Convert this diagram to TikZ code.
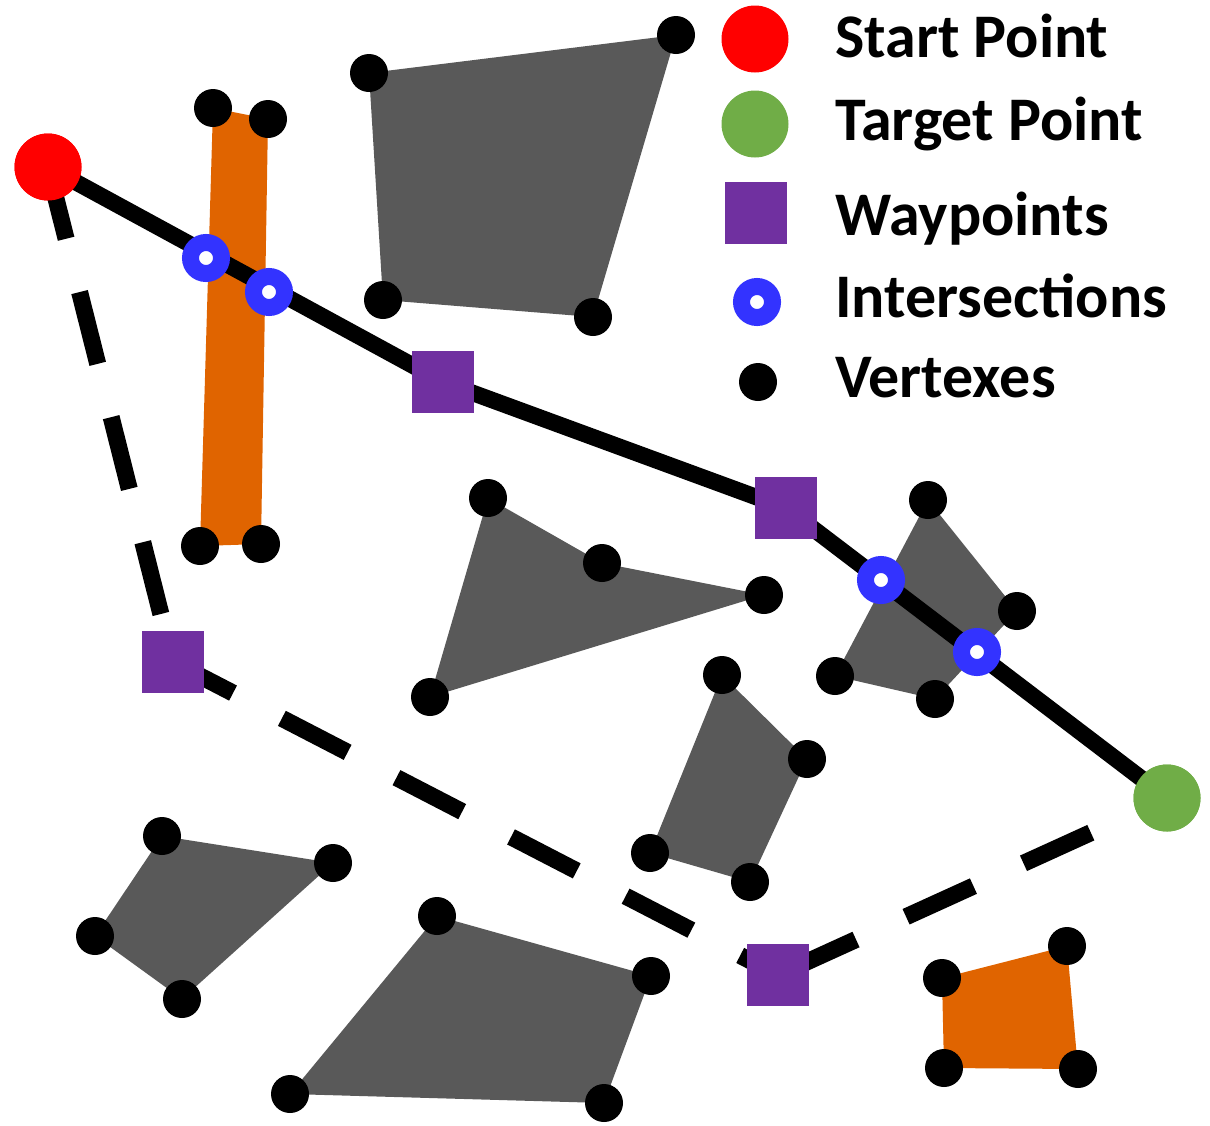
\documentclass[tikz,border=0pt]{standalone}
\usepackage{fontspec}
\setmainfont{Carlito}
\definecolor{polygray}{HTML}{595959}
\definecolor{obsorange}{RGB}{224,100,0}
\definecolor{wppurple}{HTML}{7030A0}
\definecolor{isblue}{HTML}{3333FF}
\definecolor{tgreen}{HTML}{70AD47}
\definecolor{sred}{HTML}{FF0000}
\begin{document}
\begin{tikzpicture}[x=1pt,y=-1pt,
  vtx/.style={circle,fill=black,inner sep=0pt,minimum size=38pt},
  wpbox/.style={rectangle,fill=wppurple,inner sep=0pt,minimum size=62pt},
  startpt/.style={circle,fill=sred,inner sep=0pt,minimum size=67pt},
  targetpt/.style={circle,fill=tgreen,inner sep=0pt,minimum size=67pt},
  isring/.style={circle,draw=isblue,line width=17pt,fill=white,inner sep=0pt,minimum size=31pt},
  solidpath/.style={line width=16.5pt},
  dashpath/.style={line width=17pt,dash pattern=on 74pt off 55pt},
  legtext/.style={anchor=base west,inner sep=0pt,font=\fontsize{62}{70}\selectfont\bfseries}]
\useasboundingbox (0,0) rectangle (1210,1125);
% polygons
\fill[obsorange] (213,108) -- (268,119) -- (261,544) -- (200,546) -- cycle;
\fill[polygray] (369,73) -- (676,35) -- (593,317) -- (383,300) -- cycle;
\fill[polygray] (488,498) -- (602,563) -- (764,595) -- (430,697) -- cycle;
\fill[polygray] (928,500) -- (1017,611) -- (935,699) -- (835,676) -- cycle;
\fill[polygray] (722,675) -- (807,759) -- (750,882) -- (650,853) -- cycle;
\fill[polygray] (162,836) -- (333,863) -- (182,999) -- (95,936) -- cycle;
\fill[polygray] (437,916) -- (651,976) -- (604,1103) -- (290,1094) -- cycle;
\fill[obsorange] (942,978) -- (1067,946) -- (1078,1069) -- (944,1068) -- cycle;
% vertexes
\foreach \n/\p in {a1/{(213,108)},a2/{(268,119)},a3/{(261,544)},a4/{(200,546)},
  b1/{(369,73)},b2/{(676,35)},b3/{(593,317)},b4/{(383,300)},
  c1/{(488,498)},c2/{(602,563)},c3/{(764,595)},c4/{(430,697)},
  d1/{(928,500)},d2/{(1017,611)},d3/{(935,699)},d4/{(835,676)},
  e1/{(722,675)},e2/{(807,759)},e3/{(750,882)},e4/{(650,853)},
  f1/{(162,836)},f2/{(333,863)},f3/{(182,999)},f4/{(95,936)},
  g1/{(437,916)},g2/{(651,976)},g3/{(604,1103)},g4/{(290,1094)},
  h1/{(942,978)},h2/{(1067,946)},h3/{(1078,1069)},h4/{(944,1068)}}
  \node[vtx] (\n) at \p {};
% key points (placed first so the paths can refer to them)
\node[startpt] (start) at (48,167) {};
\node[targetpt] (target) at (1167,798) {};
\node[wpbox] (wp1) at (443,382) {};
\node[wpbox] (wp2) at (786,508) {};
\node[wpbox] (wp3) at (173,662) {};
\node[wpbox] (wp4) at (778,975) {};
% paths
\draw[solidpath] (start.center) -- (wp1.center) -- (wp2.center) -- (target.center);
\draw[dashpath] (start.center) -- (wp3.center);
\draw[dashpath,dash phase=6.4pt] (wp3.center) -- (wp4.center);
\draw[dashpath,dash phase=117.3pt] (wp4.center) -- (target.center);
% markers on top of the paths
\node[wpbox] at (wp1) {};
\node[wpbox] at (wp2) {};
\node[wpbox] at (wp3) {};
\node[wpbox] at (wp4) {};
\node[startpt] at (start) {};
\node[targetpt] at (target) {};
% intersections
\node[isring] (i1) at (206,258) {};
\node[isring] (i2) at (269,292) {};
\node[isring] (i3) at (881,580) {};
\node[isring] (i4) at (977,652) {};
% legend
\node[startpt] (lstart) at (755,39) {};
\node[targetpt] (ltarget) at (755,124) {};
\node[wpbox] (lwp) at (755.5,212.5) {};
\node[isring] (lis) at (757,302) {};
\node[vtx] (lvtx) at (758,382) {};
\node[legtext] (t1) at (835,57) {Start Point};
\node[legtext] (t2) at (835,140) {Target Point};
\node[legtext] (t3) at (835,235) {Waypoints};
\node[legtext] (t4) at (835,317) {Intersections};
\node[legtext] (t5) at (835,397) {Vertexes};
\end{tikzpicture}
\end{document}
